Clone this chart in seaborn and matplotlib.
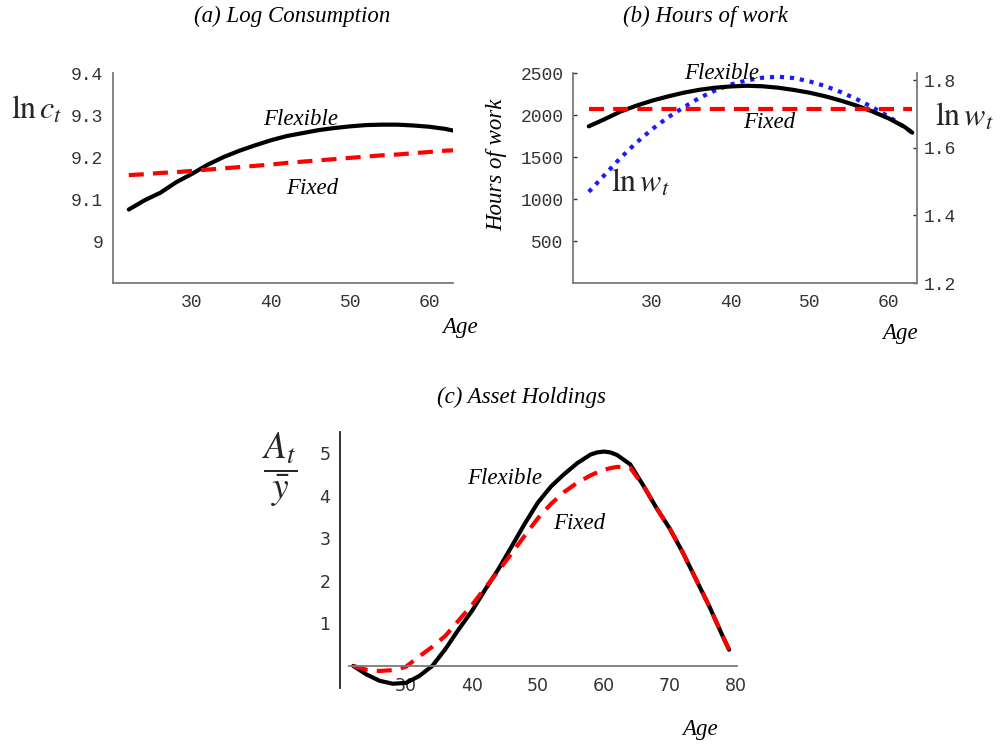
import numpy as np
import pandas as pd
import matplotlib
matplotlib.use("Agg")
import matplotlib.pyplot as plt
import seaborn as sns

# ---------------- data ----------------
ages_a = [22, 24, 26, 28, 30, 32, 34, 36, 38, 40, 42, 44, 46, 48, 50, 52, 54, 56, 58, 60, 62, 63]
cons_flex = [9.075, 9.097, 9.115, 9.140, 9.160, 9.182, 9.200, 9.215, 9.228, 9.240, 9.250,
             9.257, 9.264, 9.269, 9.273, 9.276, 9.277, 9.277, 9.275, 9.272, 9.267, 9.263]
cons_fixed = [9.157, 9.159, 9.162, 9.164, 9.167, 9.170, 9.173, 9.176, 9.179, 9.182, 9.186,
              9.189, 9.192, 9.195, 9.198, 9.201, 9.204, 9.206, 9.209, 9.212, 9.215, 9.216]

ages_b = [22, 24, 26, 28, 30, 32, 34, 36, 38, 40, 42, 44, 46, 48, 50, 52, 54, 56, 58, 60, 62, 63]
hours_flex = [1865, 1950, 2040, 2110, 2170, 2220, 2265, 2300, 2325, 2340, 2348, 2342, 2325,
              2298, 2265, 2222, 2170, 2110, 2040, 1960, 1860, 1790]
ages_fixed_b = [22, 63]
hours_fixed = [2075, 2075]
lnw = [1.470, 1.520, 1.570, 1.615, 1.655, 1.690, 1.720, 1.748, 1.770, 1.788, 1.800, 1.808,
       1.811, 1.807, 1.797, 1.783, 1.765, 1.744, 1.720, 1.693, 1.662, 1.645]

ages_c = [22, 24, 26, 28, 30, 32, 34, 36, 38, 40, 42, 44, 46, 48, 50, 52, 54, 56, 58, 59,
          60, 61, 62, 64, 66, 68, 70, 72, 74, 76, 78, 79]
assets_flex = [0.0, -0.20, -0.35, -0.42, -0.40, -0.24, 0.0, 0.40, 0.86, 1.29, 1.79, 2.27,
               2.80, 3.34, 3.84, 4.22, 4.51, 4.77, 4.97, 5.02, 5.04, 5.02, 4.96, 4.74, 4.24,
               3.71, 3.23, 2.66, 2.03, 1.40, 0.71, 0.38]
assets_fixed = [0.0, -0.09, -0.12, -0.10, -0.02, 0.22, 0.45, 0.71, 1.07, 1.43, 1.83, 2.23,
                2.64, 3.06, 3.47, 3.81, 4.09, 4.31, 4.48, 4.55, 4.61, 4.65, 4.68, 4.66, 4.24,
                3.71, 3.23, 2.66, 2.03, 1.40, 0.71, 0.38]

ticks_a_y = [9.0, 9.1, 9.2, 9.3, 9.4]
ticklabels_a_y = ["9", "9.1", "9.2", "9.3", "9.4"]
ticks_age_ab = [30, 40, 50, 60]
ticks_b_y = [500, 1000, 1500, 2000, 2500]
ticks_b_y2 = [1.2, 1.4, 1.6, 1.8]
ticks_c_x = [30, 40, 50, 60, 70, 80]
ticks_c_y = [1, 2, 3, 4, 5]

# ---------------- style ----------------
sns.set_theme(style="white")
plt.rcParams["font.family"] = ["Liberation Serif", "DejaVu Serif"]
plt.rcParams["mathtext.fontset"] = "stix"

W, H = 1001, 747
fig = plt.figure(figsize=(W / 100, H / 100), dpi=100)
fig.patch.set_facecolor("white")

def fx(px):
    return px / W

def fy(py):
    return 1 - py / H

AX_COL = "#7a7a7a"
TICK_FONT = dict(family="Liberation Mono", size=13, color="#333333")
TICK_FONT_C = dict(family="DejaVu Sans", size=12.5, color="#333333")
LBL = dict(family="Liberation Serif", style="italic", size=16.5, color="black")
LW = 3.0
DASH = (0, (3.6, 2.2))
DOT = (0, (1.0, 1.4))
RED = "#ff0000"
BLUE = "#1a1aff"


def style_axes(ax, spines=("left", "bottom")):
    ax.set_facecolor("none")
    for s in ["left", "right", "top", "bottom"]:
        ax.spines[s].set_visible(s in spines)
        ax.spines[s].set_color(AX_COL)
        ax.spines[s].set_linewidth(1.3)
    ax.tick_params(direction="in", length=3, width=1, color="#333333")
    ax.grid(False)


# ---------------- (a) ----------------
ax_a = fig.add_axes([fx(113), fy(283), fx(340), 210 / H])
sns.lineplot(x=ages_a, y=cons_flex, ax=ax_a, color="black", lw=LW)
sns.lineplot(x=ages_a, y=cons_fixed, ax=ax_a, color=RED, lw=LW, linestyle=DASH)
ax_a.set_xlim(20, 63)
ax_a.set_ylim(8.9, 9.4)
style_axes(ax_a)
ax_a.set_xticks(ticks_age_ab)
ax_a.set_yticks(ticks_a_y)
ax_a.set_yticklabels(ticklabels_a_y)
ax_a.tick_params(axis="y", pad=7)
ax_a.tick_params(axis="x", pad=8)
for lab in ax_a.get_xticklabels() + ax_a.get_yticklabels():
    lab.set(**TICK_FONT)
ax_a.text(43.7, 9.29, "Flexible", ha="center", va="center", **LBL)
ax_a.text(45.2, 9.126, "Fixed", ha="center", va="center", **LBL)

fig.text(fx(292), fy(16), "(a) Log Consumption", ha="center", va="center", **LBL)
fig.text(fx(460), fy(328), "Age", ha="center", va="center", **LBL)
fig.text(fx(37), fy(110), r"$\mathrm{ln}\,c_t$", ha="center", va="center", size=23)

# ---------------- (b) ----------------
ax_b = fig.add_axes([fx(573), fy(283), fx(344), 210 / H])
sns.lineplot(x=ages_b, y=hours_flex, ax=ax_b, color="black", lw=LW)
sns.lineplot(x=ages_fixed_b, y=hours_fixed, ax=ax_b, color=RED, lw=LW, linestyle=DASH)
ax_b.set_xlim(20, 63.6)
ax_b.set_ylim(0, 2500)
style_axes(ax_b)
ax_b.set_xticks(ticks_age_ab)
ax_b.set_yticks(ticks_b_y)
ax_b.tick_params(axis="y", pad=7)
ax_b.tick_params(axis="x", pad=8)
for lab in ax_b.get_xticklabels() + ax_b.get_yticklabels():
    lab.set(**TICK_FONT)

ax_b2 = ax_b.twinx()
sns.lineplot(x=ages_b, y=lnw, ax=ax_b2, color=BLUE, lw=LW, linestyle=DOT)
ax_b2.set_ylim(1.2, 1.822)
style_axes(ax_b2, spines=("right",))
ax_b2.set_yticks(ticks_b_y2)
ax_b2.set_yticklabels([f"{v:.1f}" for v in ticks_b_y2])
ax_b2.tick_params(axis="y", pad=5, direction="in")
ax_b2.set_ylabel("")
for lab in ax_b2.get_yticklabels():
    lab.set(**TICK_FONT)
ax_b.set_zorder(ax_b2.get_zorder() + 1)
ax_b.patch.set_visible(False)

ax_b.text(38.9, 2500, "Flexible", ha="center", va="center", **LBL)
ax_b.text(44.9, 1905, "Fixed", ha="center", va="center", **LBL)
ax_b.text(28.6, 1190, r"$\mathrm{ln}\,w_t$", ha="center", va="center", size=23)

fig.text(fx(705), fy(16), "(b) Hours of work", ha="center", va="center", **LBL)
fig.text(fx(900), fy(333), "Age", ha="center", va="center", **LBL)
fig.text(fx(497), fy(165), "Hours of work", ha="center", va="center", rotation=90, **LBL)
fig.text(fx(964), fy(117), r"$\mathrm{ln}\,w_t$", ha="center", va="center", size=23)

# ---------------- (c) ----------------
ax_c = fig.add_axes([fx(340), fy(688), fx(397), 256 / H])
sns.lineplot(x=ages_c, y=assets_flex, ax=ax_c, color="black", lw=LW)
sns.lineplot(x=ages_c, y=assets_fixed, ax=ax_c, color=RED, lw=LW, linestyle=DASH)
ax_c.set_xlim(20, 80.2)
ax_c.set_ylim(-0.52, 5.5)
style_axes(ax_c)
ax_c.spines["bottom"].set_position(("data", 0))
ax_c.spines["bottom"].set_bounds(21.3, 80.2)
ax_c.spines["left"].set_color("#222222")
ax_c.set_xticks(ticks_c_x)
ax_c.set_yticks(ticks_c_y)
ax_c.tick_params(axis="y", pad=7)
ax_c.tick_params(axis="x", pad=8)
for lab in ax_c.get_xticklabels() + ax_c.get_yticklabels():
    lab.set(**TICK_FONT_C)
ax_c.text(45.0, 4.41, "Flexible", ha="center", va="center", **LBL)
ax_c.text(56.2, 3.35, "Fixed", ha="center", va="center", **LBL)

fig.text(fx(521), fy(397), "(c) Asset Holdings", ha="center", va="center", **LBL)
fig.text(fx(700), fy(730), "Age", ha="center", va="center", **LBL)
fig.text(fx(280), fy(470), r"$\dfrac{A_t}{\bar{y}}$", ha="center", va="center", size=27)

for ax in (ax_a, ax_b, ax_b2, ax_c):
    ax.set_xlabel("")
    ax.set_ylabel("")

fig.savefig("out.png", dpi=100, facecolor="white")
